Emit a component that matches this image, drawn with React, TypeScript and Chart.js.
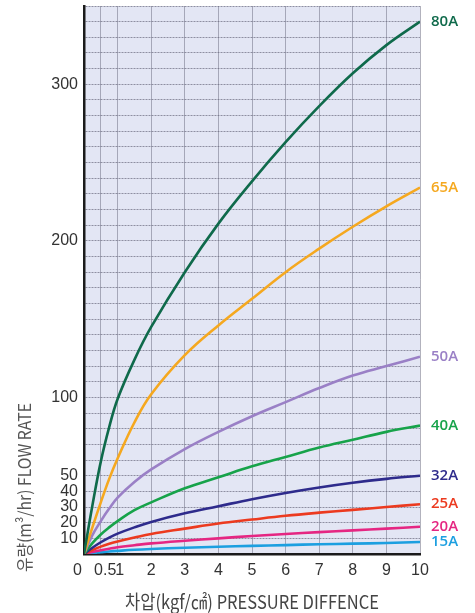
import React, { useEffect, useRef } from "react";
import { Chart, registerables } from "chart.js";

Chart.register(...registerables);

// ---- data ----
const pressure = [0, 0.25, 0.5, 0.75, 1, 1.5, 2, 3, 4, 5, 6, 7, 8, 9, 10];
const flow80A = [0, 31, 59, 81, 99, 124, 145, 180, 211, 238, 263, 286, 307, 325, 340];
const flow65A = [0, 17, 33, 48, 61, 84, 102, 127, 146, 163, 180, 195, 209, 222, 234];
const flow50A = [0, 12, 21, 29, 36, 46, 54, 67, 78, 88, 97, 106, 114, 120, 126];
const flow40A = [0, 7, 12.5, 17, 21, 28, 33, 42, 49, 56, 62, 68, 73, 78, 82];
const flow32A = [0, 4, 7.5, 10.5, 13, 17, 20.5, 26, 30.5, 35, 39, 42.5, 45.5, 48, 50];
const flow25A = [0, 2.5, 4.7, 6.5, 8, 10.5, 12.8, 16.2, 19.5, 22, 24.4, 26.4, 28.2, 30, 31.8];
const flow20A = [0, 1.3, 2.4, 3.4, 4.3, 5.6, 6.8, 8.5, 10, 11.5, 12.8, 14, 15.1, 16.2, 17.4];
const flow15A = [0, 0.6, 1.1, 1.6, 2.0, 2.7, 3.2, 4, 4.6, 5.2, 5.7, 6.2, 6.6, 7.0, 7.7];

const seriesNames = ["80A", "65A", "50A", "40A", "32A", "25A", "20A", "15A"];
const seriesValues = [flow80A, flow65A, flow50A, flow40A, flow32A, flow25A, flow20A, flow15A];
const seriesColors = ["#0f6a4b", "#f5a81f", "#9a80c6", "#17a34a", "#2e2b8c", "#ec3a1f", "#e52682", "#1c9fe0"];

const xTickValues = [0, 0.5, 1, 2, 3, 4, 5, 6, 7, 8, 9, 10];
const yTickLabels = [10, 20, 30, 40, 50, 100, 200, 300];
const xMin = 0, xMax = 10, yMin = 0, yMax = 350, yStep = 10;

const yAxisTitle = "유량(m³/hr) FLOW RATE";
const xAxisTitle = "차압(kgf/㎠) PRESSURE DIFFENCE";

const TICK_FONT = '"Liberation Sans Narrow", "Liberation Sans", sans-serif';
const CJK_FONT = '"Noto Sans CJK KR", "Liberation Sans Narrow", sans-serif';

const bgPlugin = {
  id: "plotBg",
  beforeDraw(chart: any) {
    const { ctx, chartArea } = chart;
    ctx.save();
    ctx.fillStyle = "#e3e6f4";
    ctx.fillRect(chartArea.left, chartArea.top, chartArea.right - chartArea.left, chartArea.bottom - chartArea.top);
    ctx.restore();
  },
};

const endLabelPlugin = {
  id: "endLabels",
  afterDatasetsDraw(chart: any) {
    const { ctx, chartArea, scales } = chart;
    ctx.save();
    ctx.font = '600 15px "Open Sans", sans-serif';
    ctx.textAlign = "left";
    ctx.textBaseline = "middle";
    chart.data.datasets.forEach((ds: any) => {
      const last = ds.data[ds.data.length - 1];
      const y = scales.y.getPixelForValue(last.y);
      ctx.fillStyle = ds.borderColor;
      ctx.fillText(ds.label, chartArea.right + 11, y);
    });
    ctx.restore();
  },
};

const titlePlugin = {
  id: "axisTitles",
  afterDraw(chart: any) {
    const { ctx, chartArea } = chart;
    ctx.save();
    ctx.fillStyle = "#555";
    ctx.font = "17px " + CJK_FONT;
    ctx.textBaseline = "middle";
    ctx.textAlign = "left";
    ctx.translate(25, chartArea.bottom + 18);
    ctx.rotate(-Math.PI / 2);
    ctx.fillText(yAxisTitle, 0, 0, 169);
    ctx.restore();

    ctx.save();
    ctx.fillStyle = "#444";
    ctx.font = "19px " + CJK_FONT;
    ctx.textBaseline = "middle";
    ctx.textAlign = "center";
    ctx.fillText(xAxisTitle, (chartArea.left + chartArea.right) / 2, chartArea.bottom + 48, 254);
    ctx.restore();
  },
};

export default function App() {
  const canvasRef = useRef<HTMLCanvasElement | null>(null);

  useEffect(() => {
    const canvas = canvasRef.current;
    if (!canvas) return;
    const datasets = seriesNames.map((name, i) => ({
      label: name,
      data: pressure.map((p, j) => ({ x: p, y: seriesValues[i][j] })),
      borderColor: seriesColors[i],
      backgroundColor: seriesColors[i],
      borderWidth: 2.6,
      pointRadius: 0,
      fill: false,
      tension: 0.4,
    }));

    const chart = new Chart(canvas, {
      type: "line",
      data: { datasets },
      options: {
        animation: false,
        responsive: false,
        maintainAspectRatio: false,
        layout: { padding: { top: 6, right: 55, left: 0, bottom: 0 } },
        plugins: {
          legend: { display: false },
          tooltip: { enabled: false },
        },
        scales: {
          x: {
            type: "linear",
            min: xMin,
            max: xMax,
            afterBuildTicks: (scale: any) => {
              scale.ticks = xTickValues.map((v) => ({ value: v }));
            },
            afterFit: (scale: any) => {
              scale.height = 59;
            },
            ticks: {
              autoSkip: false,
              maxRotation: 0,
              padding: 7,
              color: "#333",
              font: { family: TICK_FONT, size: 16 },
              callback: (v: any) => {
                const s = String(v);
                if (v === 0) return s + "   ";
                if (v === 0.5) return "  " + s;
                if (v === 1) return " " + s;
                return s;
              },
            },
            grid: { color: "rgba(115,115,135,0.55)", lineWidth: 1, drawTicks: false },
            border: { display: true, color: "#1b1b1b", width: 2.5 },
          },
          y: {
            type: "linear",
            min: yMin,
            max: yMax,
            afterFit: (scale: any) => {
              scale.width = 84;
              scale.paddingTop = 0;
              scale.paddingBottom = 0;
            },
            ticks: {
              stepSize: yStep,
              autoSkip: false,
              padding: 6,
              color: "#333",
              font: { family: TICK_FONT, size: 16 },
              callback: (v: any) => (yTickLabels.includes(v) ? String(v) : ""),
            },
            grid: { color: "rgba(105,105,125,0.7)", lineWidth: 1, drawTicks: false },
            border: { display: true, color: "#1b1b1b", width: 2.5, dash: [2, 1] },
          },
        },
      },
      plugins: [bgPlugin, endLabelPlugin, titlePlugin],
    });
    return () => chart.destroy();
  }, []);

  return (
    <div style={{ position: "absolute", left: 0, top: 0, width: 475, height: 613, background: "#fff" }}>
      <canvas ref={canvasRef} width={475} height={613} style={{ display: "block" }} />
    </div>
  );
}
